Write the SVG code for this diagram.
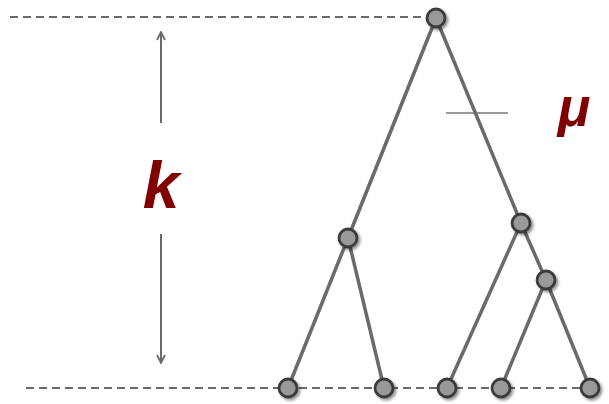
<svg xmlns="http://www.w3.org/2000/svg" width="609" height="404" viewBox="0 0 609 404">
<defs>
<style>
.edge{stroke:#6a6a6a;stroke-width:3.5;fill:none;stroke-linecap:round}
.dash{stroke:#6a6a6a;stroke-width:2;stroke-dasharray:8 5;fill:none}
.arr{stroke:#6a6a6a;stroke-width:2;fill:none}
.node circle{fill:#999;stroke:#3a3a3a;stroke-width:2.8;filter:url(#sh)}
.lbl{font-family:"Liberation Sans",Arial,sans-serif;font-weight:bold;font-style:italic;fill:#800000;text-anchor:middle}
</style>
<filter id="sh" x="-50%" y="-50%" width="200%" height="200%">
<feGaussianBlur in="SourceAlpha" stdDeviation="1.5"/>
<feOffset dx="1.5" dy="2" result="o"/>
<feComponentTransfer><feFuncA type="linear" slope="0.45"/></feComponentTransfer>
<feMerge><feMergeNode/><feMergeNode in="SourceGraphic"/></feMerge>
</filter>
<marker id="ah" viewBox="0 0 10 10" refX="9" refY="5" markerWidth="10" markerHeight="10" markerUnits="userSpaceOnUse" orient="auto">
<path d="M1,1 L9,5 L1,9" fill="none" stroke="#6a6a6a" stroke-width="1.8"/>
</marker>
</defs>
<g id="guides">
<line class="dash" x1="10" y1="17" x2="428" y2="17"/>
<line class="dash" x1="26" y1="388" x2="600" y2="388"/>
<line class="arr" x1="161" y1="123" x2="161" y2="32" marker-end="url(#ah)"/>
<line class="arr" x1="161" y1="234" x2="161" y2="363" marker-end="url(#ah)"/>
<line x1="446" y1="113" x2="508" y2="113" stroke="#9a9a9a" stroke-width="2"/>
</g>
<g id="connectors">
<line class="edge" x1="436" y1="18" x2="348" y2="238"/>
<line class="edge" x1="436" y1="18" x2="521" y2="223"/>
<line class="edge" x1="348" y1="238" x2="288" y2="388"/>
<line class="edge" x1="348" y1="238" x2="384" y2="388"/>
<line class="edge" x1="521" y1="223" x2="447" y2="388"/>
<line class="edge" x1="521" y1="223" x2="546" y2="280"/>
<line class="edge" x1="546" y1="280" x2="501" y2="388"/>
<line class="edge" x1="546" y1="280" x2="590" y2="388"/>
</g>
<g id="root" class="node"><circle cx="436" cy="18" r="9"/></g>
<g id="n_left" class="node"><circle cx="348" cy="238" r="9"/></g>
<g id="n_right" class="node"><circle cx="521" cy="223" r="9"/></g>
<g id="n_rr" class="node"><circle cx="546" cy="280" r="9"/></g>
<g id="leaf1" class="node"><circle cx="288" cy="388" r="9"/></g>
<g id="leaf2" class="node"><circle cx="384" cy="388" r="9"/></g>
<g id="leaf3" class="node"><circle cx="447" cy="388" r="9"/></g>
<g id="leaf4" class="node"><circle cx="501" cy="388" r="9"/></g>
<g id="leaf5" class="node"><circle cx="590" cy="388" r="9"/></g>
<g id="labels">
<text class="lbl" x="161" y="208" font-size="66">k</text>
<text class="lbl" x="574" y="126" font-size="54">μ</text>
</g>
</svg>
